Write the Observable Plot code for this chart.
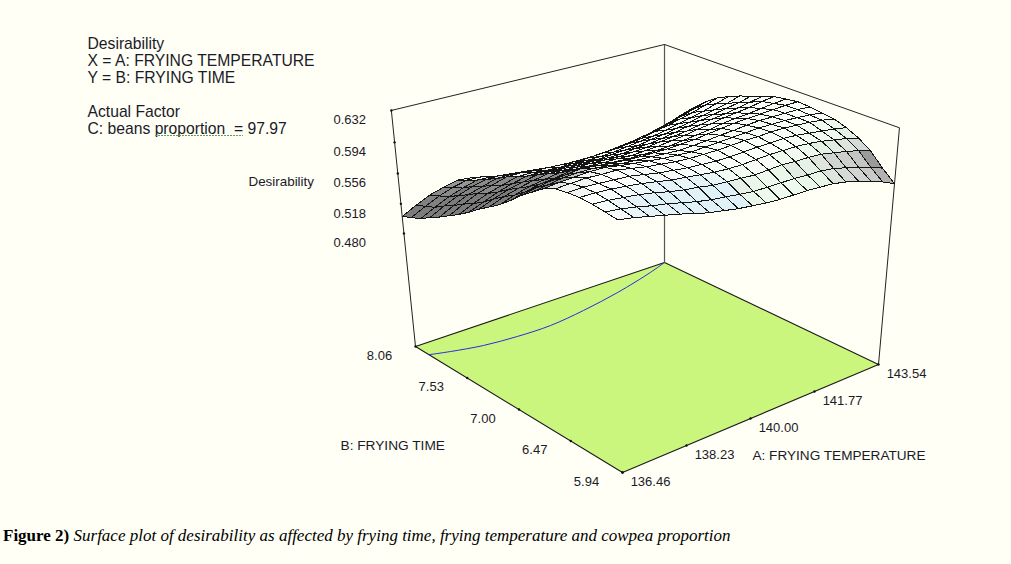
<!DOCTYPE html>
<html>
<head>
<meta charset="utf-8">
<script src="https://cdn.jsdelivr.net/npm/d3@7"></script>
<script src="https://cdn.jsdelivr.net/npm/@observablehq/plot@0.6"></script>
<style>
html,body{margin:0;padding:0;background:#fffff5;}
#cap{font-family:"Liberation Serif",serif;font-size:17px;color:#000;margin:0;padding:12px 0 0 3px;line-height:18px;white-space:nowrap;}
#cap i{font-style:italic}
</style>
</head>
<body>
<div id="chart"></div>
<div id="cap"><b>Figure 2)</b> <i>Surface plot of desirability as affected by frying time, frying temperature and cowpea proportion</i></div>
<script>
// ---- data ----
const tempTicks = [136.46, 138.23, 140.00, 141.77, 143.54];
const tempTickLabels = ["136.46", "138.23", "140.00", "141.77", "143.54"];
const timeTicks = [5.94, 6.47, 7.00, 7.53, 8.06];
const timeTickLabels = ["5.94", "6.47", "7.00", "7.53", "8.06"];
const desirTicks = [0.480, 0.518, 0.556, 0.594, 0.632];
const desirTickLabels = ["0.480", "0.518", "0.556", "0.594", "0.632"];
const floorLevel = 0.327;
const legendLines = ["Desirability", "X = A: FRYING TEMPERATURE", "Y = B: FRYING TIME", "", "Actual Factor", "C: beans proportion  = 97.97"];
const contourTemp = [136.46, 136.90, 137.61, 138.44, 139.33, 140.38, 141.59, 142.90, 143.54];
const contourTime = [7.905, 7.854, 7.79, 7.757, 7.75, 7.795, 7.874, 7.99, 8.06];
// desirability x 1000: one row per frying time step (5.94 -> 8.06), one column per temperature step (136.46 -> 143.54)
const surfaceRows = [
[627,624,620,616,612,607,603,600,597,595,593,592,592,592,591,590,587,583,578,572,565],
[629,627,624,620,617,613,609,606,604,602,600,600,600,600,599,599,597,593,589,584,578],
[631,630,628,626,623,619,616,614,611,610,609,608,609,610,609,609,608,605,602,598,593],
[632,632,631,629,627,624,621,619,617,615,614,614,615,616,616,616,615,613,610,607,603],
[631,632,631,630,629,626,623,621,619,618,617,617,618,619,619,620,619,617,615,613,610],
[629,630,631,630,630,627,624,622,620,619,619,619,620,621,621,622,622,621,620,618,615],
[623,625,626,627,627,624,622,620,618,617,616,617,618,619,620,621,621,621,620,619,617],
[613,616,619,620,620,618,616,615,614,613,612,613,614,616,617,619,620,620,620,620,619],
[603,607,610,612,614,612,610,609,608,608,608,609,610,612,614,616,617,618,619,620,620],
[591,596,600,602,605,604,602,601,600,600,600,601,603,605,607,610,612,613,615,617,618],
[580,586,591,594,597,596,595,594,594,593,594,595,597,599,602,604,607,609,611,614,616],
[571,578,583,587,590,589,588,588,587,586,587,588,590,592,594,597,600,602,605,608,611],
[562,569,575,579,583,582,581,580,580,579,579,581,582,584,587,590,593,596,599,602,606],
[552,559,566,571,575,575,573,573,572,571,572,573,574,577,579,582,585,589,592,596,601],
[543,551,558,563,568,568,566,565,565,564,564,565,567,569,571,574,578,581,585,590,595],
[535,544,552,557,562,562,560,559,558,557,557,558,559,561,563,567,570,574,578,583,588],
[527,536,544,549,554,554,552,551,549,548,548,548,549,551,553,556,559,563,568,573,578],
[520,529,537,543,547,547,545,543,541,539,538,538,538,539,541,544,547,551,555,560,566],
[512,521,529,535,540,539,536,534,531,529,527,527,527,527,528,531,534,537,542,547,553],
[507,516,524,530,534,533,529,526,523,520,517,516,515,515,515,517,519,523,527,532,538],
[502,511,519,524,528,526,522,518,514,510,507,505,503,502,502,503,505,508,512,517,523]
];

// ---- camera: homogeneous view of the unit box (temperature, time, height) ----
const camera = [
  [365.07, -151.03, -66.6, 622],
  [-62.78, -79.34, -278.9, 472],
  [0.12422, 0.13487, -0.1003, 1]
];
const [tMin, tMax] = d3.extent(tempTicks), [bMin, bMax] = d3.extent(timeTicks);
const zMax = d3.max(desirTicks);
const norm = (t, b, v) => [(t - tMin) / (tMax - tMin), (b - bMin) / (bMax - bMin), (v - floorLevel) / (zMax - floorLevel)];
function project(t, b, v) {
  const [p, q, r] = norm(t, b, v);
  const h = camera.map(c => c[0] * p + c[1] * q + c[2] * r + c[3]);
  return {px: h[0] / h[2], py: h[1] / h[2], depth: h[2]};
}
// ticks on the floor edges are evenly spaced between the projected edge ends
const along = (from, to, f, extra) => ({px: from.px + (to.px - from.px) * f, py: from.py + (to.py - from.py) * f, ...extra});

// ---- surface cells, far ones first ----
const nA = surfaceRows[0].length, nB = surfaceRows.length;
const tempAt = i => tMin + (tMax - tMin) * i / (nA - 1);
const timeAt = j => bMin + (bMax - bMin) * j / (nB - 1);
const greyLeft = d3.scaleLinear().domain([0.13, 0.17, 0.21, 0.28]).range(["#f2f4f2", "#b4b6b4", "#8c8c8c", "#7c7c7c"]).clamp(true);
const greyRight = d3.scaleLinear().domain([0.08, 0.18, 0.27, 0.36, 0.39, 0.42]).range(["#fbfffa", "#e8f7e8", "#d8dcd8", "#c4c6c4", "#a8a8a8", "#808080"]).clamp(true);
const blueRight = d3.scaleLinear().domain([0.06, 0.12, 0.18]).range(["#fcfffc", "#eef8f8", "#e0f1f8"]).clamp(true);
const cells = [];
for (let j = 0; j < nB - 1; ++j) for (let i = 0; i < nA - 1; ++i) {
  const v00 = surfaceRows[j][i] / 1000, v10 = surfaceRows[j][i + 1] / 1000, v01 = surfaceRows[j + 1][i] / 1000, v11 = surfaceRows[j + 1][i + 1] / 1000;
  const da = ((v10 + v11) - (v00 + v01)) / 2 * (nA - 1), db = ((v01 + v11) - (v00 + v10)) / 2 * (nB - 1);
  const tilt = da - db, u = i / (nA - 1), w = j / (nB - 1);
  const tone = tilt > 0
    ? (u < 0.35 ? greyLeft(tilt) : "#f8fdf8")
    : (u < 0.42 && w < 0.5 ? blueRight(-tilt) : greyRight(-tilt));
  const corners = [[i, j, v00], [i + 1, j, v10], [i + 1, j + 1, v11], [i, j + 1, v01]].map(([a, b, v]) => project(tempAt(a), timeAt(b), v));
  cells.push({id: `${i}-${j}`, tone, depth: d3.mean(corners, c => c.depth), corners});
}
cells.sort((a, b) => b.depth - a.depth);
const cellPoints = cells.flatMap(c => c.corners.map(p => ({...p, cell: c.id, tone: c.tone})));

// ---- box ----
const front = project(tMin, bMin, floorLevel), right = project(tMax, bMin, floorLevel), left = project(tMin, bMax, floorLevel);
const floorCorners = [front, right, project(tMax, bMax, floorLevel), left];
const edge = (pts) => pts.map(([t, b, v]) => project(t, b, v));
const boxTop = edge([[tMin, bMax, floorLevel], [tMin, bMax, zMax], [tMax, bMax, zMax], [tMax, bMin, zMax], [tMax, bMin, floorLevel]]);
const backPost = edge([[tMax, bMax, floorLevel], [tMax, bMax, zMax]]);
const contour = contourTemp.map((t, k) => project(t, contourTime[k], floorLevel));

const tempPts = tempTicks.map((t, k) => along(front, right, (t - tMin) / (tMax - tMin), {label: tempTickLabels[k]}));
const timePts = timeTicks.map((b, k) => along(front, left, (b - bMin) / (bMax - bMin), {label: timeTickLabels[k]}));
const desirPts = desirTicks.map((v, k) => ({...project(tMin, bMax, v), label: desirTickLabels[k]}));

const sans = "'Liberation Sans', Arial, sans-serif";
const ink = "#1a1a2a";
const crisp = "crispEdges";
const plot = Plot.plot({
  width: 1011, height: 515,
  margin: 0,
  style: {background: "#fffff5", fontFamily: sans},
  x: {domain: [0, 1011], range: [0, 1011], axis: null},
  y: {domain: [0, 515], range: [0, 515], axis: null},
  color: {type: "identity"},
  marks: [
    // floor
    Plot.line(floorCorners, {x: "px", y: "py", fill: "#cbf67e", stroke: "#1a1a1a", strokeWidth: 1.1, curve: "linear-closed"}),
    Plot.line(contour, {x: "px", y: "py", stroke: "#2a2ae0", strokeWidth: 1, curve: "catmull-rom"}),
    // back post and box top
    Plot.line(backPost, {x: "px", y: "py", stroke: "#555", strokeWidth: 1.2}),
    Plot.line(boxTop, {x: "px", y: "py", stroke: "#222", strokeWidth: 1}),
    // surface
    Plot.line(cellPoints, {x: "px", y: "py", z: "cell", fill: "tone", stroke: "#141414", strokeWidth: 1, curve: "linear-closed", shapeRendering: crisp}),
    // ticks
    Plot.dot([...tempPts, ...timePts, ...desirPts], {x: "px", y: "py", r: 1.2, fill: "#111", stroke: null}),
    // tick labels
    Plot.text(tempPts, {x: "px", y: "py", text: "label", dx: 28, dy: 9, fontSize: 13, fill: ink}),
    Plot.text(timePts, {x: "px", y: "py", text: "label", dx: -36, dy: 9, fontSize: 13, fill: ink}),
    Plot.text(desirPts, {x: () => 333, y: "py", text: "label", dy: 9.5, textAnchor: "start", fontSize: 13, fill: ink}),
    // axis titles
    Plot.text(["Desirability"], {x: () => 248, y: () => 181.5, text: d => d, textAnchor: "start", fontSize: 13.4, fill: ink}),
    Plot.text(["B: FRYING TIME"], {x: () => 340, y: () => 445.5, text: d => d, textAnchor: "start", fontSize: 13.7, fill: ink}),
    Plot.text(["A: FRYING TEMPERATURE"], {x: () => 752, y: () => 455, text: d => d, textAnchor: "start", fontSize: 13.6, fill: ink}),
    // legend block
    Plot.text(legendLines.map((t, k) => ({t, k})).filter(d => d.t), {
      x: () => 87, y: d => 43 + d.k * 17, text: "t", textAnchor: "start", fontSize: 15.7, fill: ink
    }),
    Plot.ruleY([135], {x1: () => 155, x2: () => 243, stroke: "#5aa05a", strokeWidth: 1, strokeDasharray: "2,1"})
  ]
});
document.getElementById("chart").append(plot);
</script>
</body>
</html>
